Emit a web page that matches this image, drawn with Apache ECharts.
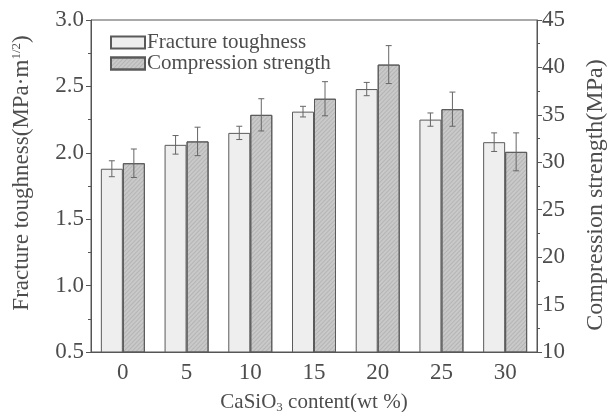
<!DOCTYPE html>
<html><head><meta charset="utf-8">
<script src="https://cdn.jsdelivr.net/npm/echarts@6/dist/echarts.min.js"></script>
<style>html,body{margin:0;padding:0;background:#fff}#c{width:613px;height:412px}</style>
</head><body><div id="c"></div>
<script>
const categories = ['0','5','10','15','20','25','30'];
const fracture = [1.88, 2.06, 2.15, 2.31, 2.48, 2.25, 2.08];
const fractureErr = [0.06, 0.07, 0.05, 0.04, 0.05, 0.05, 0.07];
const compression = [29.9, 32.2, 35.0, 36.7, 40.3, 35.6, 31.1];
const compressionErr = [1.5, 1.5, 1.7, 1.8, 2.0, 1.8, 2.0];

const FONT = '"Liberation Serif", "DejaVu Serif", serif';
const TXT = '#4d4d4d';
const LINE = '#555';
const BW = 22;

function errSeries(vals, errs, yIdx, offset, color) {
  return {
    type: 'custom', yAxisIndex: yIdx, z: 10, silent: true,
    data: vals.map((v, i) => [i, v, errs[i]]),
    renderItem: function (params, api) {
      const x = api.value(0), v = api.value(1), e = api.value(2);
      const hi = api.coord([x, v + e]);
      const lo = api.coord([x, v - e]);
      const cx = hi[0] + offset;
      const hw = 3;
      const st = { stroke: color, lineWidth: 1 };
      return { type: 'group', children: [
        { type: 'line', shape: { x1: cx, y1: hi[1], x2: cx, y2: lo[1] }, style: st },
        { type: 'line', shape: { x1: cx - hw, y1: hi[1], x2: cx + hw, y2: hi[1] }, style: st },
        { type: 'line', shape: { x1: cx - hw, y1: lo[1], x2: cx + hw, y2: lo[1] }, style: st }
      ]};
    }
  };
}

const chart = echarts.init(document.getElementById('c'));
chart.setOption({
  animation: false,
  backgroundColor: '#fff',
  textStyle: { fontFamily: FONT, color: TXT },
  grid: { left: 91, right: 76, top: 20, bottom: 60, outerBoundsMode: 'none', containLabel: false,
    show: true, borderColor: LINE, borderWidth: 1 },
  legend: {
    left: 105, top: 27, orient: 'vertical', itemWidth: 34, itemHeight: 12, itemGap: 0, icon: 'rect',
    textStyle: { fontFamily: FONT, fontSize: 21, lineHeight: 20, color: TXT, padding: [0,0,0,-3] },
    data: ['Fracture toughness', 'Compression strength']
  },
  xAxis: [{
    type: 'category', data: categories,
    axisLine: { lineStyle: { color: LINE } },
    axisTick: { alignWithLabel: true, length: 5, lineStyle: { color: LINE } },
    axisLabel: { fontFamily: FONT, fontSize: 23, color: TXT, margin: 9 },
    name: 'CaSiO{sub|3} content(wt %)', nameLocation: 'middle', nameGap: 39,
    nameTextStyle: { fontFamily: FONT, fontSize: 21, color: TXT,
      rich: { sub: { fontFamily: FONT, fontSize: 13, color: TXT, verticalAlign: 'bottom', padding: [10,0,0,0] } } }
  }, {
    type: 'category', data: categories, position: 'bottom',
    axisLine: { show: false },
    axisTick: { alignWithLabel: false, length: 3, lineStyle: { color: LINE } },
    axisLabel: { show: false }
  }],
  yAxis: [
    {
      type: 'value', min: 0.5, max: 3.0, interval: 0.5, position: 'left',
      axisLine: { show: true, lineStyle: { color: LINE } },
      axisTick: { show: true, length: 5, lineStyle: { color: LINE } },
      minorTick: { show: true, splitNumber: 2, length: 3, lineStyle: { color: LINE } },
      splitLine: { show: false },
      axisLabel: { fontFamily: FONT, fontSize: 23, color: TXT, margin: 7, formatter: v => v.toFixed(1) },
      name: 'Fracture toughness(MPa·m{sup|1/2})', nameLocation: 'middle', nameGap: 58, nameRotate: 90,
      nameTextStyle: { fontFamily: FONT, fontSize: 23, color: TXT, padding: [0, 0, 0, 26],
        rich: { sup: { fontFamily: FONT, fontSize: 13, color: TXT, verticalAlign: 'top', padding: [0,0,10,0] } } }
    },
    {
      type: 'value', min: 10, max: 45, interval: 5, position: 'right',
      axisLine: { show: true, lineStyle: { color: LINE } },
      axisTick: { show: true, length: 5, lineStyle: { color: LINE } },
      minorTick: { show: true, splitNumber: 2, length: 3, lineStyle: { color: LINE } },
      splitLine: { show: false },
      axisLabel: { fontFamily: FONT, fontSize: 23, color: TXT, margin: 5 },
      name: 'Compression strength(MPa)', nameLocation: 'middle', nameGap: 47, nameRotate: 90,
      nameTextStyle: { fontFamily: FONT, fontSize: 24, color: TXT, padding: [0, 18, 0, 0] }
    }
  ],
  series: [
    {
      name: 'Fracture toughness', type: 'bar', yAxisIndex: 0, data: fracture,
      barWidth: BW, barGap: '0%',
      itemStyle: { color: '#eeeeee', borderColor: '#5a5a5a', borderWidth: 1 }
    },
    {
      name: 'Compression strength', type: 'bar', yAxisIndex: 1, data: compression,
      barWidth: BW, barGap: '0%',
      itemStyle: { color: '#c9c9c9', borderColor: '#5a5a5a', borderWidth: 1,
        decal: { symbol: 'rect', dashArrayX: [1, 0], dashArrayY: [1, 2], rotation: -0.8, color: 'rgba(120,120,120,0.25)' } }
    },
    errSeries(fracture, fractureErr, 0, -BW / 2, '#666'),
    errSeries(compression, compressionErr, 1, BW / 2, '#666')
  ]
});
</script></body></html>
